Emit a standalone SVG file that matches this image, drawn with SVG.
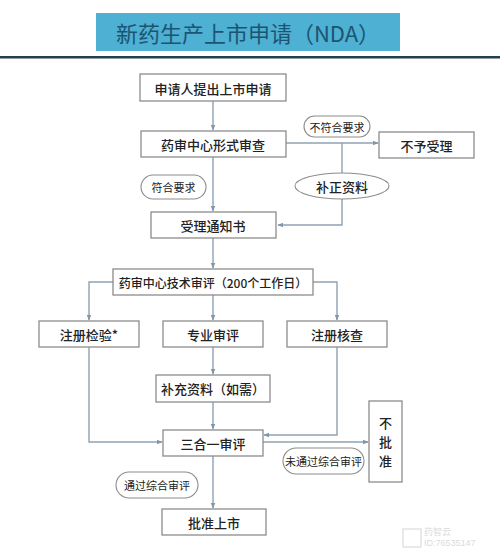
<svg xmlns="http://www.w3.org/2000/svg" width="500" height="559" viewBox="0 0 500 559">
<defs>
<style>
.box{fill:#fff;stroke:#8c8c8c;stroke-width:1.3}
.pill{fill:#fff;stroke:#8c8c8c;stroke-width:1.1}
.t{font-family:"Noto Sans CJK SC","Noto Sans",sans-serif;font-size:13px;fill:#222;text-anchor:middle;dominant-baseline:central;font-weight:500}
.s{font-family:"Noto Sans CJK SC","Noto Sans",sans-serif;font-size:11px;fill:#222;text-anchor:middle;dominant-baseline:central}
.c{fill:none;stroke:#8fa2b2;stroke-width:1.4}
</style>
<marker id="ah" viewBox="0 0 10 10" refX="9" refY="5" markerWidth="6" markerHeight="6" orient="auto" markerUnits="userSpaceOnUse">
<path d="M0,1 L10,5 L0,9 Z" fill="#7f97ab"/>
</marker>
</defs>
<rect width="500" height="559" fill="#fff"/>
<g id="title">
<rect x="96" y="13" width="304" height="38" fill="#4eb0d2"/>
<text x="248" y="32" font-family="Noto Sans CJK SC,sans-serif" font-size="22" fill="#1b5572" text-anchor="middle" dominant-baseline="central">新药生产上市申请（NDA）</text>
<rect x="0" y="56" width="500" height="2.5" fill="#22404e"/>
</g>
<g id="connectors">
<path class="c" d="M213,101 V130" marker-end="url(#ah)"/>
<path class="c" d="M286,143 H378" marker-end="url(#ah)"/>
<path class="c" d="M342,143 V173"/>
<path class="c" d="M342,199 V225 H278" marker-end="url(#ah)"/>
<path class="c" d="M213,157 V211" marker-end="url(#ah)"/>
<path class="c" d="M213,238 V268" marker-end="url(#ah)"/>
<path class="c" d="M113,282 H89 V320" marker-end="url(#ah)"/>
<path class="c" d="M313,282 H337 V320" marker-end="url(#ah)"/>
<path class="c" d="M213,295 V320" marker-end="url(#ah)"/>
<path class="c" d="M213,347 V374" marker-end="url(#ah)"/>
<path class="c" d="M213,402 V429" marker-end="url(#ah)"/>
<path class="c" d="M89,347 V442 H162" marker-end="url(#ah)"/>
<path class="c" d="M337,347 V435 H264" marker-end="url(#ah)"/>
<path class="c" d="M263,442 H368" marker-end="url(#ah)"/>
<path class="c" d="M213,456 V508" marker-end="url(#ah)"/>
</g>
<g id="n1"><rect class="box" x="140" y="74" width="146" height="27"/><text class="t" x="213" y="88">申请人提出上市申请</text></g>
<g id="n2"><rect class="box" x="141" y="131" width="145" height="26"/><text class="t" x="213" y="144">药审中心形式审查</text></g>
<g id="l1"><rect class="pill" x="304" y="116" width="66" height="21" rx="10.5"/><text class="s" x="337" y="126.5">不符合要求</text></g>
<g id="n3"><rect class="box" x="379" y="132" width="95" height="26"/><text class="t" x="426.5" y="145">不予受理</text></g>
<g id="n4"><ellipse class="pill" cx="342" cy="186" rx="47" ry="13"/><text class="t" x="342" y="186">补正资料</text></g>
<g id="l2"><rect class="pill" x="141" y="175" width="65" height="24" rx="12"/><text class="s" x="173.5" y="187">符合要求</text></g>
<g id="n5"><rect class="box" x="151" y="212" width="125" height="26"/><text class="t" x="213" y="225">受理通知书</text></g>
<g id="n6"><rect class="box" x="113" y="269" width="200" height="26"/><text class="t" x="213" y="282" style="font-size:12px">药审中心技术审评（200个工作日）</text></g>
<g id="n7"><rect class="box" x="39" y="321" width="100" height="26"/><text class="t" x="89" y="334">注册检验*</text></g>
<g id="n8"><rect class="box" x="163" y="321" width="100" height="26"/><text class="t" x="213" y="334">专业审评</text></g>
<g id="n9"><rect class="box" x="287" y="321" width="100" height="26"/><text class="t" x="337" y="334">注册核查</text></g>
<g id="n10"><rect class="box" x="156" y="375" width="114" height="27"/><text class="t" x="213" y="388.5">补充资料（如需）</text></g>
<g id="n11"><rect class="box" x="163" y="430" width="100" height="26"/><text class="t" x="213" y="443">三合一审评</text></g>
<g id="n12"><rect class="box" x="369" y="401" width="33" height="81"/><text class="t" x="385.5" y="422">不</text><text class="t" x="385.5" y="441">批</text><text class="t" x="385.5" y="460">准</text></g>
<g id="l3"><rect class="pill" x="283" y="448" width="81" height="26" rx="13"/><text class="s" x="323.5" y="461">未通过综合审评</text></g>
<g id="l4"><rect class="pill" x="116" y="472" width="82" height="26" rx="13"/><text class="s" x="157" y="485">通过综合审评</text></g>
<g id="n13"><rect class="box" x="162" y="509" width="104" height="26"/><text class="t" x="214" y="522">批准上市</text></g>
<g id="watermark" opacity="0.35">
<rect x="403" y="529" width="18" height="18" fill="none" stroke="#999" stroke-width="1.2"/>
<text x="424" y="535" font-family="Noto Sans CJK SC,sans-serif" font-size="9" fill="#999">药智云</text>
<text x="424" y="546" font-family="Liberation Sans,sans-serif" font-size="9" fill="#999">ID:76535147</text>
</g>
</svg>
